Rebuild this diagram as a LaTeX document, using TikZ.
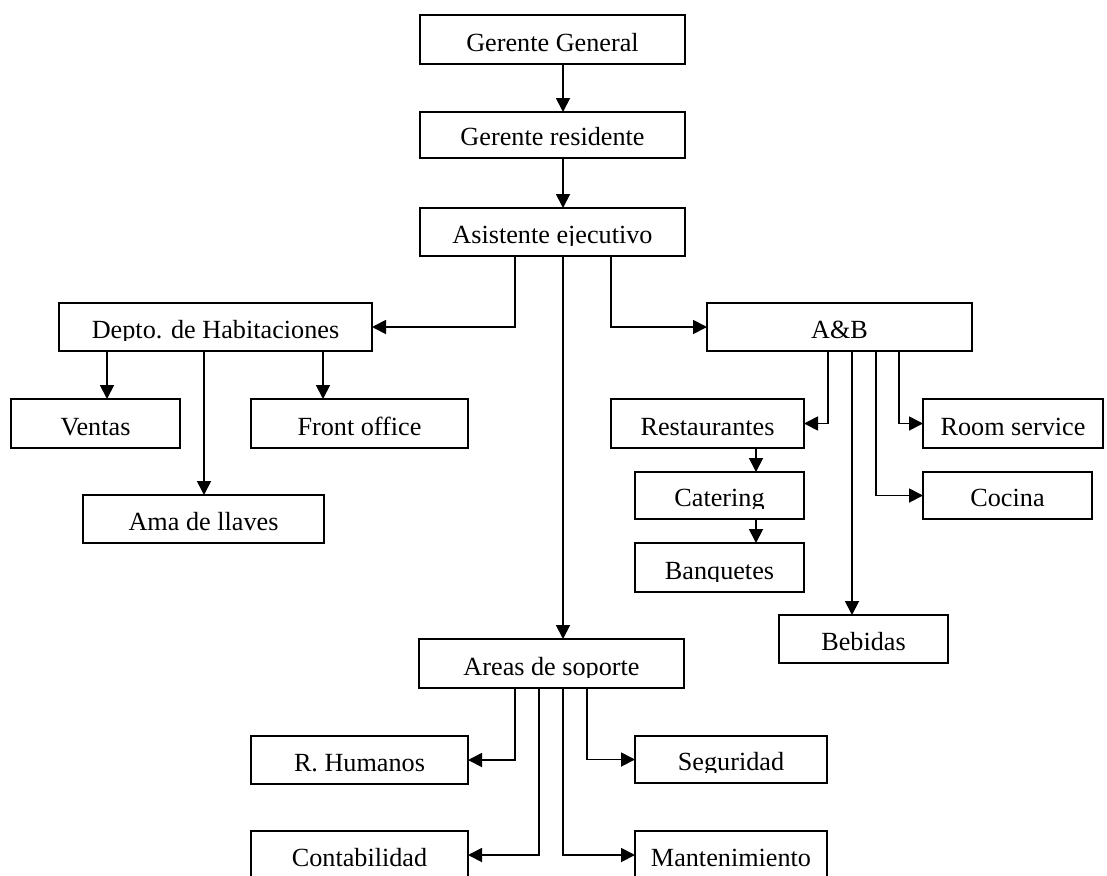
\documentclass[tikz,border=0pt]{standalone}
\usepackage{fontspec}
\setmainfont{Liberation Serif}
\usetikzlibrary{arrows.meta}
\tikzset{
  box/.style={draw, line width=1.8pt, inner sep=0pt, outer sep=0pt, rectangle},
  lbl/.style={anchor=base, inner sep=0pt, font=\fontsize{26.2}{30}\selectfont},
  conn/.style={line width=1.8pt, -{Triangle[length=14pt,width=14pt]}}
}
\newcommand\bx[6]{%
  \pgfmathsetlengthmacro\bw{#4-#2}%
  \pgfmathsetlengthmacro\bh{#5-#3}%
  \node[box, minimum width=\bw, minimum height=\bh] (#1) at ({(#2+#4)/2},{(#3+#5)/2}) {};
  \begin{scope}
    \clip (#2,#3) rectangle (#4,#5-10.3);
    \node[lbl] (#1-t) at ({(#2+#4)/2},#5-12.7) {#6};
  \end{scope}}
\begin{document}
\begin{tikzpicture}[x=1pt,y=-1pt]
\clip (0,0) rectangle (1107,875);
\fill[white] (0,0) rectangle (1107,875);
% boxes
\bx{gg}{420}{15}{685}{64}{Gerente General}
\bx{gr}{420}{112}{685}{158}{Gerente residente}
\bx{asis}{420}{208}{685}{256}{Asistente ejecutivo}
\bx{dep}{59}{303}{372}{351}{Depto. de Habitaciones}
\bx{ventas}{11}{399}{180}{448}{Ventas}
\bx{front}{251}{399}{468}{448}{Front office}
\bx{ama}{83}{495}{324}{543}{Ama de llaves}
\bx{ab}{707}{303}{972}{351}{A\&B}
\bx{rest}{611}{399}{804}{448}{Restaurantes}
\bx{cat}{635}{472}{804}{519}{Catering}
\bx{banq}{635}{543}{804}{592}{Banquetes}
\bx{rs}{923}{399}{1103}{448}{Room service}
\bx{coc}{923}{472}{1092}{519}{Cocina}
\bx{beb}{779}{615}{948}{663}{Bebidas}
\bx{areas}{419}{639}{684}{688}{Areas de soporte}
\bx{rh}{251}{736}{468}{784}{R. Humanos}
\bx{seg}{635}{736}{827}{783}{Seguridad}
\bx{cont}{251}{831}{468}{879}{Contabilidad}
\bx{mant}{635}{831}{827}{879}{Mantenimiento}
% x positions
\foreach \x in {107,204,323,515,539,563,587,611,756,828,852,876,899}
  \coordinate (x\x) at (\x,0);
% connectors
\draw[conn] (gg.south -| x563) -- (gr.north -| x563);
\draw[conn] (gr.south -| x563) -- (asis.north -| x563);
\draw[conn] (asis.south -| x515) |- (dep.east);
\draw[conn] (asis.south -| x611) |- (ab.west);
\draw[conn] (asis.south -| x563) -- (areas.north -| x563);
\draw[conn] (dep.south -| x107) -- (ventas.north -| x107);
\draw[conn] (dep.south -| x204) -- (ama.north -| x204);
\draw[conn] (dep.south -| x323) -- (front.north -| x323);
\draw[conn] (ab.south -| x828) |- (rest.east);
\draw[conn] (ab.south -| x852) -- (beb.north -| x852);
\draw[conn] (ab.south -| x876) |- (coc.west);
\draw[conn] (ab.south -| x899) |- (rs.west);
\draw[conn] (rest.south -| x756) -- (cat.north -| x756);
\draw[conn] (cat.south -| x756) -- (banq.north -| x756);
\draw[conn] (areas.south -| x515) |- (rh.east);
\draw[conn] (areas.south -| x539) |- (cont.east);
\draw[conn] (areas.south -| x563) |- (mant.west);
\draw[conn] (areas.south -| x587) |- (seg.west);
\end{tikzpicture}
\end{document}
